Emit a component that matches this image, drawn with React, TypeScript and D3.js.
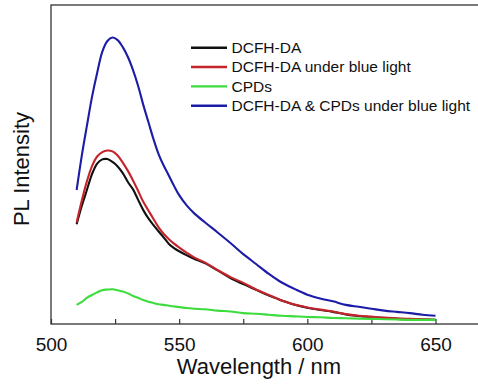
import { useEffect, useRef } from 'react';
import * as d3 from 'd3';

// Wavelength (nm) sampling shared by all spectra
const wavelengths = [
  510, 512, 514, 516, 518, 520, 522, 524, 526, 528, 530, 532, 534, 536, 538, 540, 542, 544, 546, 548, 550,
  553, 556, 560,
  565, 570, 575, 580, 585, 590, 595, 600, 605, 610, 615, 620, 625, 630, 635, 640, 645, 650,
];

// PL intensity (arbitrary units)
const dcfhDA = [
  31.3, 37.0, 42.0, 47.0, 50.3, 51.6, 51.7, 50.8, 49.4, 47.3, 44.5, 42.2, 38.9, 35.7, 33.1, 31.0, 29.0, 27.1, 25.1, 23.8, 22.8,
  21.5, 20.4, 19.1,
  16.8, 14.4, 12.5, 10.7, 8.9, 7.4, 6.0, 5.1, 4.4, 3.8, 3.0, 2.5, 2.1, 1.9, 1.6, 1.5, 1.4, 1.3,
];
const dcfhBlue = [
  31.8, 38.6, 44.7, 49.5, 52.5, 53.9, 54.4, 54.1, 52.8, 50.6, 48.0, 45.0, 41.7, 38.3, 35.6, 32.9, 30.3, 28.2, 26.6, 25.2, 24.0,
  22.3, 20.8, 19.3,
  16.9, 14.7, 12.9, 10.8, 9.1, 7.4, 6.1, 5.2, 4.5, 3.9, 3.1, 2.6, 2.3, 2.0, 1.8, 1.6, 1.5, 1.3,
];
const cpds = [
  6.0, 6.9, 8.2, 9.1, 9.9, 10.6, 10.8, 10.9, 10.6, 10.2, 9.6, 8.8, 8.2, 7.5, 7.0, 6.6, 6.2, 6.0, 5.7, 5.5, 5.3,
  5.0, 4.8, 4.6,
  4.2, 3.9, 3.4, 3.2, 2.9, 2.6, 2.4, 2.2, 2.1, 1.9, 1.8, 1.7, 1.6, 1.5, 1.4, 1.3, 1.3, 1.3,
];
const mixBlue = [
  42.0, 52.7, 62.1, 71.2, 78.7, 85.3, 88.7, 89.8, 89.0, 86.8, 83.7, 79.6, 74.6, 68.7, 63.3, 57.9, 53.2, 49.6, 46.5, 43.3, 40.4,
  37.1, 34.6, 31.9,
  28.7, 25.4, 21.9, 18.8, 15.7, 13.0, 11.0, 9.2, 8.0, 7.1, 6.0, 5.4, 4.8, 4.2, 3.8, 3.4, 2.9, 2.6,
];

const seriesNames = ['DCFH-DA', 'DCFH-DA under blue light', 'CPDs', 'DCFH-DA & CPDs under blue light'];
const seriesValues = [dcfhDA, dcfhBlue, cpds, mixBlue];
const seriesColors = ['#111111', '#c4242a', '#3ddc3d', '#1c1ca6'];

const xTicks = [500, 525, 550, 575, 600, 625, 650];

const FONT = "'Liberation Sans', Arial, sans-serif";

export default function App() {
  const svgRef = useRef<SVGSVGElement | null>(null);

  useEffect(() => {
    const width = 478;
    const height = 385;
    const marginLeft = 51;
    const marginTop = 5;
    const bottom = 324;

    const svg = d3.select(svgRef.current).attr('viewBox', [0, 0, width, height]);
    svg.selectAll('*').remove();

    const x = d3.scaleLinear().domain([500, 650]).range([marginLeft, 435.5]);
    const y = d3.scaleLinear().domain([0, 100]).range([bottom, marginTop]);

    // Plot frame (right side runs off the picture)
    svg
      .append('rect')
      .attr('x', marginLeft)
      .attr('y', marginTop)
      .attr('width', x(672) - marginLeft)
      .attr('height', bottom - marginTop)
      .attr('fill', 'none')
      .attr('stroke', '#333')
      .attr('stroke-width', 1.3);

    // Bottom axis with inward ticks
    svg
      .append('g')
      .attr('transform', `translate(0,${bottom})`)
      .call(
        d3
          .axisBottom(x)
          .tickValues(xTicks)
          .tickSizeInner(-5)
          .tickSizeOuter(0)
          .tickPadding(14)
          .tickFormat((d) => ((d as number) % 50 === 0 ? String(d) : ''))
      )
      .call((g) => g.select('.domain').remove())
      .call((g) => g.selectAll('.tick line').attr('stroke', '#333').attr('stroke-width', 1.2))
      .call((g) =>
        g.selectAll('.tick text').attr('font-size', 19).attr('font-family', FONT).attr('fill', '#111')
      );

    // Spectra
    const line = d3
      .line<number>()
      .x((_, i) => x(wavelengths[i]))
      .y((d) => y(d))
      .curve(d3.curveCatmullRom.alpha(0.5));

    svg
      .append('g')
      .attr('fill', 'none')
      .attr('stroke-width', 2.1)
      .attr('stroke-linejoin', 'round')
      .selectAll('path')
      .data(seriesValues)
      .join('path')
      .attr('stroke', (_, i) => seriesColors[i])
      .attr('d', (d) => line(d));

    // Legend
    const legend = svg.append('g').attr('font-family', FONT).attr('font-size', 15.5);
    seriesNames.forEach((name, i) => {
      const ly = 47.7 + i * 19.33;
      legend
        .append('line')
        .attr('x1', 191)
        .attr('x2', 227)
        .attr('y1', ly)
        .attr('y2', ly)
        .attr('stroke', seriesColors[i])
        .attr('stroke-width', 2.4);
      legend
        .append('text')
        .attr('x', 231.5)
        .attr('y', ly)
        .attr('dy', '0.35em')
        .attr('fill', '#111')
        .text(name);
    });

    // Axis titles
    svg
      .append('text')
      .attr('x', 259)
      .attr('y', 374)
      .attr('text-anchor', 'middle')
      .attr('font-family', FONT)
      .attr('font-size', 22)
      .attr('fill', '#111')
      .text('Wavelength / nm');

    svg
      .append('text')
      .attr('transform', 'translate(29,169) rotate(-90)')
      .attr('text-anchor', 'middle')
      .attr('font-family', FONT)
      .attr('font-size', 22)
      .attr('fill', '#111')
      .text('PL Intensity');
  }, []);

  return (
    <svg
      ref={svgRef}
      width={478}
      height={385}
      style={{ position: 'absolute', left: 0, top: 0, background: '#fff' }}
    />
  );
}
